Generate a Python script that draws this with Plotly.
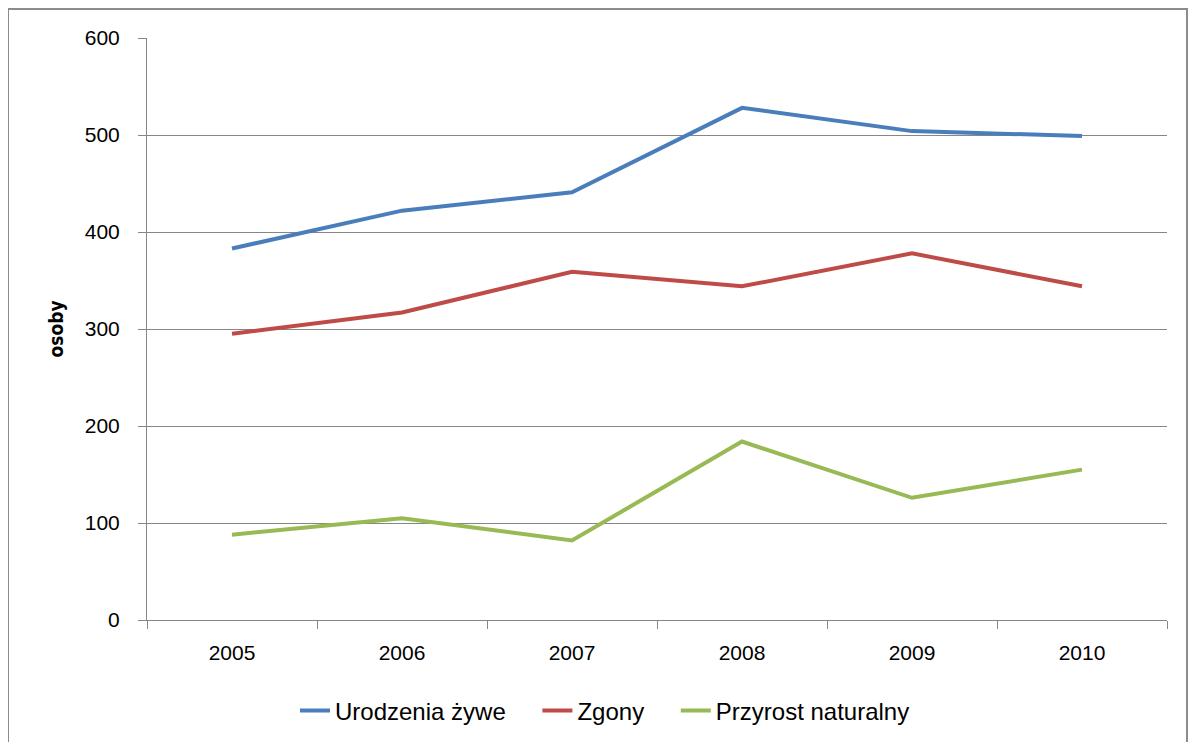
import plotly.graph_objects as go

years = ["2005", "2006", "2007", "2008", "2009", "2010"]
urodzenia = [383, 422, 441, 528, 504, 499]
zgony = [295, 317, 359, 344, 378, 344]
przyrost = [88, 105, 82, 184, 126, 155]

NB = "\u00a0" * 4
series = [
    ("Urodzenia żywe" + NB, urodzenia, "#4a7ebb"),
    ("Zgony" + NB, zgony, "#be4b48"),
    ("Przyrost naturalny", przyrost, "#98b954"),
]

fig = go.Figure()
for name, vals, col in series:
    fig.add_trace(go.Scatter(x=years, y=vals, name=name, mode="lines",
                             line=dict(color=col, width=4)))

# page has an 8px body margin, so figure coords = screen coords - 8
OFF = 8
W, H = 1196, 742
L, R, T = 147 - OFF, 1196 - (1167 - OFF), 38 - OFF
B = H - (620 - OFF)
pw, ph = W - L - R, H - T - B

def px(x):
    return (x - OFF - L) / pw

def py(y):
    return (H - B - (y - OFF)) / ph

fig.add_shape(type="rect", xref="paper", yref="paper",
              x0=px(8), x1=px(1187), y0=py(790), y1=py(9),
              line=dict(color="#8c8c8c", width=2), fillcolor="rgba(0,0,0,0)",
              layer="below")

font = "Liberation Sans, Arial, sans-serif"
fig.update_layout(
    width=W, height=H,
    margin=dict(l=L, r=R, t=T, b=B),
    paper_bgcolor="white", plot_bgcolor="white",
    font=dict(family=font, size=20, color="#000000"),
    showlegend=True,
    legend=dict(orientation="h", x=px(605), xanchor="center", y=py(711), yanchor="middle",
                font=dict(family=font, size=24), tracegroupgap=0),
    xaxis=dict(type="category", range=[-0.5, 5.5], showgrid=False,
               showline=True, linecolor="#868686", linewidth=1,
               ticks="outside", tickson="boundaries", ticklen=8, tickcolor="#868686",
               ticklabelstandoff=14,
               tickfont=dict(family=font, size=21)),
    yaxis=dict(range=[0, 600], dtick=100, showgrid=True, gridcolor="#868686", gridwidth=1,
               showline=True, linecolor="#868686", linewidth=1, zeroline=False,
               ticks="outside", ticklen=8, tickcolor="#868686",
               ticklabelstandoff=14,
               tickfont=dict(family=font, size=21),
               title=dict(text="<b>osoby</b>",
                          font=dict(family="DejaVu Sans Condensed, Liberation Sans, sans-serif", size=19),
                          standoff=16)),
)

fig.write_html("out.html")
